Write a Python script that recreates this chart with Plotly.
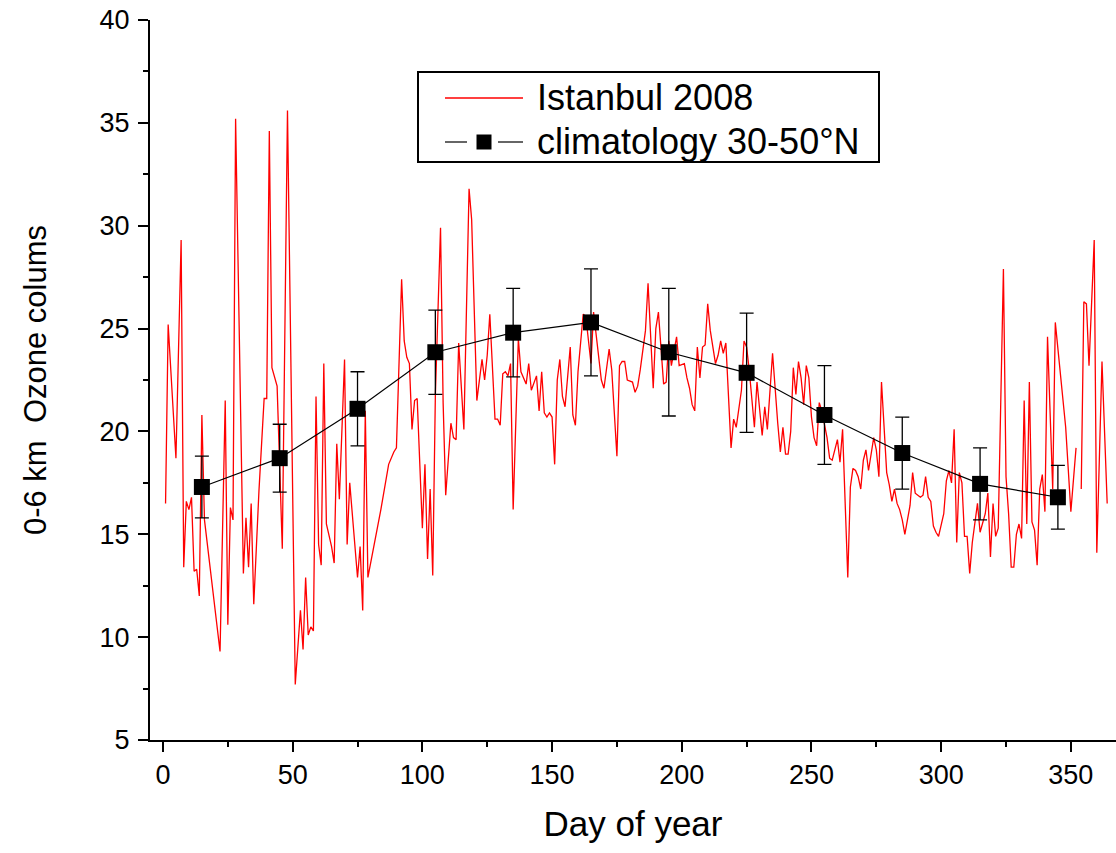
import plotly.graph_objects as go

# Istanbul 2008 daily 0-6 km ozone columns (None = data gap)
ist_day = [1, 2, 5, 7, 8, 9, 10, 11, 12, 13, 14, 15, 16, 22, 24, 25, 26, 27, 28, 31,
           32, 33, 34, 35, 37, 39, 40, 41, 42, 44, 46, 48, 51, 53, 54, 55, 56, 57, 58, 59,
           60, 61, 62, 63, 65, 66, 67, 68, 70, 71, 72, 75, 76, 77, 78, 79, 84, 87, 89, 90,
           92, 93, 94, 95, 96, 97, 98, 100, 101, 102, 103, 104, 105, 107, 108, 109, 111, 112, 113, 114,
           116, 118, 119, 121, 123, 124, 125, 126, 128, 129, 130, 131, 132, 133, 134, 135, 137, 138, 140, 141,
           142, 144, 145, 146, 147, 148, 149, 150, 151, 152, 153, 154, 155, 157, 158, 159, 160, 162, 163, 165,
           166, 168, 169, 170, 172, 173, 175, 176, 177, 178, 179, 181, 182, 183, 184, 186, 187, 189, 190, 191,
           192, 193, 194, 195, 196, 197, 198, 199, 201, 202, 203, 204, 205, 206, 207, 208, 209, 210, 211, 213,
           214, 215, 216, 217, 219, 220, 221, 223, 224, 225, 226, 228, 229, 231, 232, 233, 235, 237, 238, 239,
           240, 241, 242, 243, 244, 245, 246, 247, 248, 249, 250, 251, 252, 253, 254, 256, 257, 258, 260, 261,
           262, 264, 265, 266, 267, 268, 269, 270, 271, 272, 274, 275, 276, 277, 278, 279, 280, 281, 282, 283,
           284, 285, 286, 287, 288, 289, 290, 291, 292, 293, 294, 295, 296, 297, 298, 299, 300, 301, 302, 303,
           304, 305, 306, 307, 308, 309, 310, 311, 312, 313, 314, 315, 316, 317, 318, 319, 320, 321, 322, 324,
           325, 326, 327, 328, 329, 330, 331, 332, 333, 334, 335, 336, 337, 338, 339, 340, 341, 343, 344, 348,
           350, 352, 353, 354, 355, 356, 357, 359, 360, 362, 364]
ist_val = [16.5, 25.2, 18.7, 29.3, 13.4, 16.6, 16.2, 16.8, 13.2, 13.3, 12.0, 20.8, 15.7, 9.3, 21.5, 10.6, 16.3, 15.7, 35.2, 13.1,
           15.8, 13.4, 16.5, 11.6, 17.1, 21.6, 21.6, 34.6, 23.1, 22.2, 14.3, 35.6, 7.7, 11.3, 9.4, 12.9, 10.1, 10.5, 10.3, 21.7,
           14.5, 13.5, 23.3, 15.5, 14.4, 13.6, 19.4, 16.7, 23.5, 14.5, 17.5, 12.9, 14.4, 11.3, 21.0, 12.9, 16.2, 18.4, 19.0, 19.2,
           27.4, 24.4, 23.6, 23.3, 20.1, 21.5, 21.6, 15.3, 18.4, 13.8, 17.2, 13.0, 21.7, 29.9, 21.4, 16.9, 20.4, 19.7, 19.6, 24.3,
           20.1, 31.8, 30.3, 21.5, 23.5, 22.5, 23.7, 25.7, 20.6, 20.6, 20.3, 22.8, 22.9, 22.7, 23.3, 16.2, 24.5, 22.9, 22.3, 23.3,
           22.0, 22.7, 21.0, 22.9, 20.9, 20.7, 20.9, 20.7, 18.4, 22.5, 23.5, 21.7, 21.2, 24.1, 20.8, 20.3, 22.9, 25.7, 25.6, 23.3,
           25.8, 23.6, 22.5, 22.1, 24.0, 23.0, 18.8, 23.2, 23.4, 23.4, 22.5, 22.4, 21.9, 22.2, 23.0, 24.9, 27.2, 22.1, 25.0, 25.8,
           24.1, 22.3, 22.4, 24.4, 23.2, 24.0, 24.6, 23.2, 23.3, 22.6, 22.1, 21.3, 21.0, 24.1, 22.6, 24.1, 24.2, 26.2, 24.9, 23.3,
           23.7, 24.4, 23.8, 24.3, 19.2, 20.6, 20.2, 22.0, 24.4, 24.1, 23.0, 20.2, 22.4, 19.8, 21.2, 20.1, 23.8, 20.4, 19.0, 20.2,
           18.9, 18.9, 20.0, 23.1, 21.8, 23.4, 22.6, 21.3, 23.2, 22.6, 20.7, 19.7, 19.3, 21.4, 21.0, 19.7, 18.7, 18.6, 19.6, 18.5,
           20.1, 12.9, 17.3, 18.2, 18.1, 17.8, 17.2, 18.6, 19.1, 18.1, 19.7, 19.1, 17.8, 22.4, 20.0, 18.0, 17.4, 16.6, 17.2, 16.5,
           16.2, 15.7, 15.0, 15.7, 16.4, 18.0, 17.0, 16.9, 16.8, 16.9, 17.8, 16.8, 16.6, 15.4, 15.1, 14.9, 15.4, 16.0, 17.6, 18.1,
           17.5, 20.1, 14.6, 18.0, 17.5, 14.9, 14.9, 13.1, 14.6, 15.5, 16.5, 15.1, 15.5, 16.0, 17.0, 13.9, 16.5, 14.9, 15.3, 27.9,
           17.8, 16.0, 13.4, 13.4, 15.0, 15.5, 14.8, 21.5, 15.5, 22.4, 15.6, 15.2, 13.5, 17.2, 17.9, 16.1, 24.6, 17.2, 25.3, 20.2,
           16.1, 19.2, None, 17.2, 26.3, 26.2, 23.2, 29.3, 14.1, 23.4, 16.5]

# Climatology 30-50°N (monthly) with error bars
clim_day = [15, 45, 75, 105, 135, 165, 195, 225, 255, 285, 315, 345]
clim_val = [17.3, 18.7, 21.1, 23.85, 24.8, 25.3, 23.85, 22.85, 20.8, 18.95, 17.45, 16.8]
clim_err = [1.5, 1.65, 1.8, 2.05, 2.15, 2.6, 3.1, 2.9, 2.4, 1.75, 1.75, 1.55]

series_names = ["Istanbul 2008", "climatology 30-50°N"]

FONT = "Arial, Liberation Sans, sans-serif"
W, H = 1116, 853
ML, MR, MT, MB = 150, 0, 20, 113
PW, PH = W - ML - MR, H - MT - MB


def px2x(px):
    return (px - ML) / PW


def py2y(py):
    return (H - MB - py) / PH


fig = go.Figure()
fig.add_trace(go.Scatter(
    x=ist_day, y=ist_val, mode="lines", name=series_names[0],
    line=dict(color="#ff0000", width=1.3), connectgaps=False, showlegend=False))
fig.add_trace(go.Scatter(
    x=clim_day, y=clim_val, mode="lines+markers", name=series_names[1],
    line=dict(color="black", width=1.2),
    marker=dict(symbol="square", size=16, color="black"),
    error_y=dict(type="data", array=clim_err, visible=True, color="black",
                 thickness=1.3, width=7), showlegend=False))

# hand-drawn legend box (Origin style)
shapes = [
    dict(type="rect", xref="paper", yref="paper",
         x0=px2x(418), x1=px2x(879), y0=py2y(162), y1=py2y(72),
         line=dict(color="black", width=2), fillcolor="white", layer="above"),
    dict(type="line", xref="paper", yref="paper",
         x0=px2x(445), x1=px2x(523), y0=py2y(98), y1=py2y(98),
         line=dict(color="#ff0000", width=1.3), layer="above"),
    dict(type="line", xref="paper", yref="paper",
         x0=px2x(445), x1=px2x(467), y0=py2y(142), y1=py2y(142),
         line=dict(color="black", width=1.2), layer="above"),
    dict(type="line", xref="paper", yref="paper",
         x0=px2x(498), x1=px2x(523), y0=py2y(142), y1=py2y(142),
         line=dict(color="black", width=1.2), layer="above"),
    dict(type="rect", xref="paper", yref="paper",
         x0=px2x(476.5), x1=px2x(491.5), y0=py2y(149.5), y1=py2y(134.5),
         line=dict(color="black", width=0), fillcolor="black", layer="above"),
]
annotations = [
    dict(text=series_names[0], xref="paper", yref="paper",
         x=px2x(535), y=py2y(98), xanchor="left", yanchor="middle",
         showarrow=False, font=dict(size=36, family=FONT, color="black")),
    dict(text=series_names[1], xref="paper", yref="paper",
         x=px2x(535), y=py2y(142), xanchor="left", yanchor="middle",
         showarrow=False, font=dict(size=36, family=FONT, color="black")),
]

fig.update_layout(
    width=W, height=H,
    margin=dict(l=ML, r=MR, t=MT, b=MB),
    paper_bgcolor="white", plot_bgcolor="white",
    font=dict(family=FONT, color="black"),
    showlegend=False,
    shapes=shapes,
    annotations=annotations,
    xaxis=dict(
        range=[-5, 367.4], tick0=0, dtick=50,
        showline=True, linecolor="black", linewidth=2,
        ticks="outside", ticklen=10, tickwidth=2, tickcolor="black",
        minor=dict(ticks="outside", ticklen=5, tickwidth=2, dtick=25, tickcolor="black"),
        showgrid=False, zeroline=False,
        tickfont=dict(size=27, family=FONT),
        title=dict(text="Day of year", font=dict(size=35, family=FONT), standoff=22),
    ),
    yaxis=dict(
        range=[5, 40], tick0=5, dtick=5,
        showline=True, linecolor="black", linewidth=2,
        ticks="outside", ticklen=10, tickwidth=2, tickcolor="black",
        minor=dict(ticks="outside", ticklen=5, tickwidth=2, dtick=2.5, tickcolor="black"),
        showgrid=False, zeroline=False,
        tickfont=dict(size=27, family=FONT), ticklabelstandoff=3,
        title=dict(text="0-6 km  Ozone colums", font=dict(size=31, family=FONT), standoff=44),
    ),
)

fig.write_html("out.html")
